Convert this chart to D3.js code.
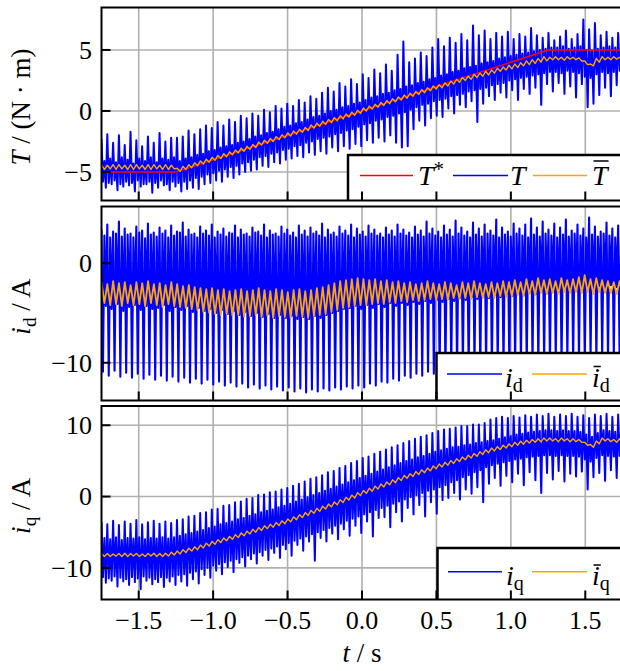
<!DOCTYPE html>
<html>
<head>
<meta charset="utf-8">
<script src="https://cdn.jsdelivr.net/npm/d3@7"></script>
<style>
  body { margin: 0; background: #fff; }
  svg text { font-family: "Liberation Serif", "DejaVu Serif", serif; fill: #000; }
</style>
</head>
<body>
<svg id="chart" width="620" height="671"></svg>
<script>
// time axis (s)
const tStart = -1.75, tEnd = 1.75;
const xTicks = [-1.5, -1.0, -0.5, 0.0, 0.5, 1.0, 1.5];

// reference torque T* (N m)
const refTime = [-1.75, -1.25, 1.25, 1.75];
const refTorque = [-5, -5, 5, 5];

const torque = [
  -2.3,-5.8,-4.1,-6.3, -1.9,-5.9,-3.9,-6.0, -2.6,-5.7,-4.2,-6.5,
  -2.0,-6.0,-3.8,-6.2, -2.8,-5.8,-4.0,-6.1, -1.7,-5.9,-4.3,-6.6,
  -2.4,-5.7,-3.9,-6.2, -2.9,-6.0,-4.1,-6.0, -2.1,-5.8,-3.8,-6.7,
  -2.6,-5.9,-4.2,-6.3, -1.8,-5.7,-3.9,-6.1, -2.5,-6.0,-4.0,-6.5,
  -2.2,-5.8,-3.8,-6.2, -2.2,-5.9,-4.1,-6.6, -2.1,-5.8,-3.9,-6.4,
  -1.6,-5.7,-3.8,-6.3, -1.9,-5.5,-3.6,-6.4, -1.5,-5.4,-3.5,-6.0,
  -1.2,-5.2,-3.3,-5.9, -1.4,-5.1,-3.2,-5.7, -0.9,-4.9,-3.0,-5.8,
  -1.2,-4.8,-2.9,-5.4, -0.7,-4.6,-2.8,-5.5, -0.9,-4.5,-2.6,-5.2,
  -0.4,-4.3,-2.5,-5.0, -0.6,-4.2,-2.3,-4.9, -0.2,-4.0,-2.1,-4.8,
  -0.4,-3.8,-2.0,-4.5, 0.1,-3.7,-1.8,-4.6, -0.1,-3.5,-1.7,-4.2,
  0.4,-3.4,-1.5,-4.3, 0.2,-3.2,-1.3,-4.0, 0.6,-3.1,-1.2,-3.9,
  0.4,-2.9,-1.0,-3.7, 0.9,-2.8,-0.9,-3.8, 0.7,-2.6,-0.7,-3.4,
  1.2,-2.5,-0.5,-3.6, 1.0,-2.3,-0.4,-3.3, 1.5,-2.2,-0.2,-3.5,
  1.9,-2.1,0.0,-3.0, 1.6,-1.9,0.1,-3.3, 2.3,-1.8,0.3,-2.9,
  2.0,-1.6,0.4,-3.1, 2.6,-1.5,0.6,-2.7, 2.2,-1.3,0.7,-2.9,
  3.0,-1.1,0.9,-2.4, 2.7,-1.0,1.1,-2.6, 3.4,-0.8,1.2,-2.2,
  3.1,-0.7,1.4,-2.5, 3.8,-0.5,1.5,-2.0, 3.3,-0.4,1.7,-2.6,
  4.6,-0.2,1.8,-3.0, 5.7,-0.1,2.0,-2.9, 4.0,0.1,2.1,-1.5,
  4.3,0.3,2.3,-0.8, 4.8,0.5,2.4,-1.2, 4.5,0.6,2.6,-0.6,
  5.2,0.8,2.7,-0.4, 5.9,0.9,2.9,-0.5, 5.3,1.0,3.0,0.2,
  6.0,1.2,3.2,-0.2, 5.6,1.3,3.3,0.5, 6.3,1.4,3.5,0.3,
  5.8,1.6,3.6,0.8, 7.0,1.7,3.7,-0.9, 6.2,1.8,3.9,0.6,
  6.6,1.9,4.0,1.2, 5.9,2.1,4.1,0.9, 6.4,2.2,4.3,1.5,
  6.1,2.3,4.4,1.1, 6.5,2.5,4.5,1.7, 5.9,2.6,4.6,0.9,
  6.3,2.7,4.7,1.8, 6.1,2.8,4.8,1.4, 6.8,2.9,4.9,1.9,
  6.2,3.0,5.0,0.5, 6.0,3.1,5.1,2.2, 6.4,3.2,5.2,1.6,
  5.8,3.2,5.2,2.3, 6.1,3.1,5.3,1.4, 6.6,3.3,5.1,2.0,
  5.9,3.2,5.2,1.1, 6.3,3.1,5.3,2.2, 7.5,2.8,5.0,0.3,
  6.7,2.7,4.9,0.6, 7.2,3.0,5.1,1.3, 6.2,3.2,5.2,1.9,
  6.5,3.1,5.3,1.2, 6.0,3.2,5.2,2.1, 6.4,3.3,5.1,1.7
];

// filtered torque T-bar, 2 samples per period
const torqueMean = [
  -4.4,-4.8, -4.45,-4.75, -4.4,-4.8, -4.4,-4.75, -4.45,-4.8,
  -4.4,-4.8, -4.4,-4.75, -4.45,-4.8, -4.4,-4.8, -4.4,-4.75,
  -4.45,-4.8, -4.4,-4.8, -4.45,-4.75,
  -4.7,-4.95, -4.55,-4.8, -4.4,-4.65, -4.25,-4.5, -4.1,-4.35,
  -3.95,-4.2, -3.8,-4.05, -3.65,-3.9, -3.5,-3.75, -3.35,-3.6,
  -3.2,-3.45, -3.05,-3.3, -2.9,-3.15, -2.75,-3.0, -2.55,-2.8,
  -2.4,-2.65, -2.25,-2.5, -2.1,-2.35, -1.95,-2.2, -1.8,-2.05,
  -1.65,-1.9, -1.5,-1.75, -1.35,-1.6, -1.15,-1.4, -1.0,-1.25,
  -0.85,-1.1, -0.7,-0.95, -0.55,-0.8, -0.4,-0.65, -0.25,-0.5,
  -0.1,-0.35, 0.05,-0.2, 0.25,0.0, 0.4,0.15, 0.55,0.3,
  0.7,0.45, 0.85,0.6, 1.0,0.75, 1.15,0.9, 1.3,1.05,
  1.45,1.2, 1.6,1.35, 1.75,1.5, 1.9,1.65, 2.05,1.8,
  2.15,1.9, 2.3,2.05, 2.45,2.2, 2.6,2.35, 2.75,2.5,
  2.85,2.6, 3.0,2.75, 3.1,2.85, 3.25,2.95, 3.35,3.1,
  3.5,3.25, 3.6,3.35, 3.75,3.45, 3.85,3.55, 3.95,3.7,
  4.1,3.8, 4.2,3.9, 4.3,4.0, 4.45,4.1, 4.4,4.2,
  4.45,4.2, 4.4,4.15, 4.45,4.25, 4.4,4.2, 4.35,4.1,
  4.1,3.8, 3.85,3.7, 4.3,4.0, 4.45,4.2, 4.4,4.2,
  4.45,4.25, 4.4,4.2
];

// d-axis current i_d (A)
const idCurrent = [
  3.4,-10.9,2.8,-4.3, 3.9,-11.3,2.6,-4.6, 3.2,-10.8,3.0,-4.1,
  4.2,-11.4,2.7,-4.8, 3.5,-11.0,2.9,-4.4, 3.0,-11.5,2.6,-4.2,
  3.7,-11.1,3.1,-4.7, 3.3,-11.6,2.5,-4.3, 4.0,-11.2,2.9,-4.6,
  3.1,-11.7,2.7,-4.5, 3.6,-11.3,3.0,-4.2, 3.3,-11.8,2.6,-4.8,
  3.8,-11.4,2.8,-4.4, 3.2,-11.9,3.1,-4.7, 4.1,-11.5,2.7,-4.3,
  3.4,-12.0,2.9,-4.9, 3.0,-11.6,2.6,-4.5, 3.7,-12.1,3.0,-4.8,
  3.3,-11.7,2.8,-4.6, 3.9,-12.2,2.6,-5.0, 3.2,-11.9,2.9,-4.7,
  3.5,-12.3,2.7,-5.1, 3.1,-12.0,3.0,-4.8, 3.8,-12.4,2.6,-5.2,
  3.4,-12.1,2.9,-4.9, 3.0,-12.5,2.7,-5.3, 3.6,-12.2,3.1,-5.0,
  3.2,-12.6,2.8,-5.4, 3.9,-12.3,2.6,-5.1, 3.3,-12.7,2.9,-5.5,
  3.0,-12.4,2.7,-5.2, 3.7,-12.8,3.0,-5.5, 3.4,-12.5,2.8,-5.3,
  3.1,-12.9,2.6,-5.6, 3.8,-12.6,2.9,-5.4, 3.3,-13.0,2.7,-5.6,
  3.6,-12.7,3.0,-5.3, 3.2,-12.9,2.8,-5.5, 4.0,-12.6,2.6,-5.2,
  3.4,-12.8,2.9,-5.0, 3.1,-12.5,2.7,-4.8, 3.7,-12.7,3.0,-4.6,
  3.3,-12.4,2.8,-4.5, 3.9,-12.6,2.6,-4.3, 3.5,-12.3,2.9,-4.6,
  3.2,-12.5,2.7,-4.2, 3.8,-12.1,3.0,-4.5, 3.4,-12.3,2.8,-4.1,
  3.0,-11.9,2.6,-4.4, 3.6,-12.0,2.9,-4.0, 3.3,-11.6,2.7,-4.3,
  3.9,-11.8,3.0,-4.0, 3.4,-11.3,2.8,-4.2, 3.1,-11.5,2.6,-3.9,
  3.7,-11.1,2.9,-4.1, 3.3,-11.3,2.7,-3.8, 4.2,-10.9,3.0,-4.0,
  3.5,-11.1,2.8,-3.7, 3.2,-10.8,2.6,-3.9, 3.8,-11.0,2.9,-3.6,
  3.4,-10.7,2.7,-3.8, 4.3,-10.9,3.0,-3.5, 3.6,-10.6,2.8,-3.7,
  3.2,-10.8,2.6,-3.4, 4.1,-10.5,2.9,-3.6, 3.5,-10.7,2.7,-3.3,
  3.9,-10.4,3.0,-3.5, 3.3,-10.6,2.8,-3.2, 4.4,-10.3,2.6,-3.4,
  3.6,-10.5,2.9,-3.1, 3.2,-10.2,2.7,-3.3, 4.0,-10.4,3.0,-3.0,
  3.5,-10.1,2.8,-3.2, 3.9,-10.3,2.6,-2.9, 4.5,-10.0,2.9,-3.1,
  3.6,-10.2,2.7,-2.8, 4.2,-9.9,3.0,-3.0, 3.4,-10.1,2.8,-2.7,
  4.0,-9.8,2.6,-2.9, 3.6,-10.0,2.9,-2.6, 4.4,-9.7,2.7,-2.8,
  3.3,-9.9,3.0,-2.5, 3.9,-9.6,2.8,-2.7, 3.5,-9.8,2.6,-2.4,
  4.6,-9.5,2.9,-2.6, 3.7,-9.7,2.7,-2.3, 3.2,-9.4,3.0,-2.5,
  4.1,-9.6,2.8,-2.2, 3.5,-9.3,2.6,-2.4, 3.8,-9.5,2.9,-2.1
];

// filtered i_d
const idMean = [
  -1.9,-4.0, -2.1,-4.2, -1.8,-4.1, -2.0,-4.3, -1.9,-4.0,
  -2.2,-4.2, -1.9,-4.1, -2.0,-4.3, -1.8,-4.0, -2.1,-4.2,
  -2.0,-4.4, -2.2,-4.1, -1.9,-4.3, -2.1,-4.4, -2.3,-4.5,
  -2.2,-4.6, -2.4,-4.7, -2.5,-4.9, -2.6,-5.0, -2.5,-5.1,
  -2.7,-5.2, -2.6,-5.1, -2.8,-5.3, -2.7,-5.2, -2.6,-5.4,
  -2.8,-5.3, -2.7,-5.2, -2.5,-5.4, -2.7,-5.3, -2.8,-5.5,
  -2.6,-5.3, -2.7,-5.4, -2.9,-5.5, -2.7,-5.3, -2.6,-5.4,
  -2.8,-5.5, -2.7,-5.3, -2.5,-5.2, -2.4,-5.1, -2.2,-4.9,
  -2.0,-4.7, -1.8,-4.5, -1.7,-4.4, -1.6,-4.3, -1.5,-4.2,
  -1.6,-4.2, -1.7,-4.1, -1.6,-4.0, -1.8,-4.1, -1.7,-3.9,
  -1.9,-4.0, -1.8,-3.8, -2.0,-3.9, -1.9,-3.7, -2.1,-3.8,
  -2.0,-3.7, -1.8,-3.6, -2.0,-3.7, -2.1,-3.6, -1.9,-3.7,
  -2.0,-3.5, -2.2,-3.6, -1.9,-3.5, -2.0,-3.6, -1.8,-3.4,
  -2.0,-3.5, -2.1,-3.4, -1.9,-3.5, -2.0,-3.3, -1.8,-3.4,
  -1.9,-3.3, -1.7,-3.2, -1.9,-3.3, -1.6,-3.1, -1.8,-3.2,
  -1.5,-3.0, -1.7,-3.1, -1.6,-3.0, -1.8,-3.1, -1.5,-2.9,
  -1.7,-3.0, -1.6,-2.9, -1.4,-3.0, -1.2,-2.9, -1.6,-3.1,
  -1.5,-2.9, -1.7,-3.0, -1.8,-3.0, -1.9,-3.1, -1.8,-3.0
];

// q-axis current i_q (A)
const iqCurrent = [
  -3.6,-11.3,-5.8,-12.1, -3.9,-11.5,-6.0,-11.8, -3.4,-11.2,-5.7,-12.6,
  -4.0,-11.4,-6.1,-11.9, -3.5,-11.6,-5.8,-12.4, -3.8,-11.3,-5.9,-12.0,
  -3.3,-11.5,-5.7,-13.0, -3.9,-11.2,-6.0,-11.8, -3.6,-11.4,-5.8,-12.3,
  -3.4,-11.6,-5.9,-12.0, -3.8,-11.3,-5.7,-12.7, -3.5,-11.4,-5.9,-11.9,
  -3.7,-11.2,-5.7,-12.4, -3.3,-11.0,-5.5,-11.9, -3.2,-10.9,-5.3,-12.5,
  -2.8,-10.7,-5.1,-11.6, -2.7,-10.5,-4.9,-12.2, -2.3,-10.2,-4.7,-11.0,
  -2.2,-10.0,-4.4,-11.4, -1.8,-9.7,-4.2,-10.4, -1.7,-9.5,-3.9,-10.9,
  -1.3,-9.2,-3.7,-9.9, -1.2,-9.0,-3.5,-10.6, -0.8,-8.8,-3.2,-9.3,
  -0.7,-8.5,-3.0,-9.8, -0.3,-8.3,-2.7,-8.8, -0.2,-8.0,-2.5,-9.4,
  0.2,-7.8,-2.2,-8.3, 0.3,-7.5,-2.0,-8.9, 0.6,-7.3,-1.8,-7.9,
  0.7,-7.0,-1.5,-8.6, 1.0,-6.8,-1.3,-7.4, 1.2,-6.5,-1.0,-8.3,
  1.5,-6.2,-0.7,-6.8, 1.8,-5.9,-0.4,-7.6, 2.1,-5.6,-0.1,-6.3,
  2.5,-5.3,0.2,-9.0, 2.7,-5.0,0.5,-5.8, 3.0,-4.7,0.8,-6.3,
  3.4,-4.4,1.1,-5.2, 3.6,-4.1,1.4,-6.0, 4.0,-3.8,1.7,-4.6,
  4.3,-3.4,2.0,-5.5, 4.7,-3.1,2.3,-4.1, 5.0,-2.8,2.6,-5.1,
  5.4,-2.5,2.9,-3.5, 5.6,-2.2,3.2,-5.6, 6.0,-1.9,3.5,-3.0,
  6.3,-1.6,3.8,-2.9, 6.6,-1.3,4.1,-4.3, 6.9,-1.0,4.4,-2.2,
  7.2,-0.7,4.7,-3.5, 7.5,-0.4,5.0,-1.6, 7.8,-0.1,5.2,-2.5,
  8.1,0.2,5.5,-1.2, 8.4,0.5,5.7,-2.8, 8.6,0.8,6.0,-0.8,
  8.9,1.0,6.3,-2.4, 9.2,1.3,6.5,-0.5, 9.4,1.6,6.7,-0.2,
  9.5,2.0,6.9,0.5, 9.7,2.3,7.0,-0.4, 9.9,2.7,7.2,1.0,
  9.9,3.0,7.3,0.4, 10.1,3.4,7.5,1.3, 10.1,3.7,7.6,-0.8,
  10.3,4.1,7.8,1.8, 10.8,4.4,7.9,2.6, 11.0,4.6,8.1,1.5,
  11.2,4.8,8.3,2.9, 11.0,5.0,8.5,2.0, 11.3,5.2,8.7,3.2,
  11.1,5.3,8.8,1.6, 11.4,5.5,9.0,3.4, 11.2,5.6,9.1,2.3,
  11.5,5.7,9.2,0.5, 11.3,5.8,9.3,3.3, 11.6,5.8,9.3,2.4,
  11.2,5.7,9.2,3.6, 11.5,5.8,9.3,2.1, 11.3,5.7,9.2,3.2,
  11.6,5.7,9.2,2.8, 11.2,5.6,9.1,3.5, 11.4,5.2,8.7,1.0,
  11.0,4.9,8.4,2.7, 11.5,5.4,8.9,3.3, 11.3,5.8,9.3,2.2,
  11.6,5.7,9.2,3.7, 11.2,5.6,9.1,2.6, 11.5,5.7,9.2,3.4
];

// filtered i_q
const iqMean = [
  -8.0,-8.4, -8.0,-8.4, -8.05,-8.35, -8.0,-8.4, -7.95,-8.4,
  -8.0,-8.35, -8.0,-8.4, -8.05,-8.4, -8.0,-8.35, -7.95,-8.4,
  -8.0,-8.4, -7.95,-8.35, -7.8,-8.2, -7.65,-8.05, -7.45,-7.85,
  -7.25,-7.65, -7.05,-7.45, -6.8,-7.2, -6.55,-6.95, -6.3,-6.7,
  -6.05,-6.45, -5.8,-6.2, -5.6,-6.0, -5.35,-5.75, -5.1,-5.5,
  -4.85,-5.25, -4.6,-5.0, -4.35,-4.75, -4.1,-4.5, -3.9,-4.3,
  -3.65,-4.05, -3.4,-3.8, -3.15,-3.55, -2.85,-3.25, -2.55,-2.95,
  -2.25,-2.65, -1.95,-2.35, -1.65,-2.05, -1.35,-1.75, -1.05,-1.45,
  -0.75,-1.15, -0.45,-0.85, -0.1,-0.5, 0.2,-0.2, 0.55,0.15,
  0.85,0.45, 1.15,0.75, 1.45,1.05, 1.75,1.35, 2.05,1.65,
  2.35,1.95, 2.65,2.25, 2.95,2.55, 3.2,2.8, 3.5,3.1,
  3.75,3.35, 4.0,3.6, 4.3,3.9, 4.55,4.15, 4.8,4.4,
  5.05,4.65, 5.3,4.9, 5.55,5.15, 5.8,5.4, 6.05,5.65,
  6.3,5.9, 6.55,6.15, 6.8,6.4, 7.0,6.6, 7.2,6.8,
  7.4,7.0, 7.6,7.2, 7.75,7.35, 7.9,7.5, 8.0,7.6,
  8.1,7.7, 8.2,7.8, 8.2,7.8, 8.1,7.7, 8.2,7.8,
  8.1,7.7, 8.1,7.7, 8.0,7.6, 7.6,7.2, 7.3,6.9,
  7.8,7.4, 8.2,7.8, 8.1,7.7, 8.0,7.6, 8.1,7.7
];

const torqueTicks = [-5, 0, 5];
const idTicks = [-10, 0];
const iqTicks = [-10, 0, 10];

const BLUE = "#0000ff", ORANGE = "#ffa500", RED = "#ff0000";

const svg = d3.select("#chart");
const x = d3.scaleLinear().domain([tStart, tEnd]).range([101.5, 622.5]);

// regular time vector for a series of n samples
function sampleTimes(n) {
  const step = (tEnd - tStart) / (n - 1);
  return d3.range(n).map(i => tStart + i * step);
}

// text with italic / sub / superscript pieces
function mathText(parent, px, py, parts, size) {
  const txt = parent.append("text").attr("x", px).attr("y", py).attr("font-size", size);
  let shift = 0;
  parts.forEach(p => {
    const s = p.shift || 0;
    txt.append("tspan").text(p.text)
      .attr("font-style", p.italic ? "italic" : "normal")
      .attr("font-size", size * (p.scale || 1))
      .attr("dy", s - shift);
    shift = s;
  });
  return txt;
}

// bar over first glyph of a text
function overBar(parent, txt, lift) {
  const e = txt.node().getExtentOfChar(0);
  parent.append("line")
    .attr("x1", e.x + 1.5).attr("x2", e.x + e.width + 1)
    .attr("y1", e.y + lift).attr("y2", e.y + lift)
    .attr("stroke", "#000").attr("stroke-width", 1.6);
}

const panels = [
  {
    id: "torque", top: 7.5, bottom: 200.5, domain: [-7.34, 8.48], ticks: torqueTicks,
    series: [
      {t: sampleTimes(torque.length), v: torque, color: BLUE, w: 2.0},
      {t: refTime, v: refTorque, color: RED, w: 1.5},
      {t: sampleTimes(torqueMean.length), v: torqueMean, color: ORANGE, w: 1.4}
    ],
    ylabel: [{text: "T", italic: true}, {text: " / (N · m)"}],
    legend: {x: 348, y: 155, ly: 175.5, ty: 185,
      items: [
        {color: RED, x1: 360, x2: 413, tx: 418, parts: [{text: "T", italic: true}, {text: "*", shift: -9, scale: 0.75}]},
        {color: BLUE, x1: 453, x2: 508, tx: 510, parts: [{text: "T", italic: true}]},
        {color: ORANGE, x1: 533, x2: 587, tx: 592, parts: [{text: "T", italic: true}], bar: 1}
      ]}
  },
  {
    id: "id", top: 206.5, bottom: 400.5, domain: [-13.8, 5.71], ticks: idTicks,
    series: [
      {t: sampleTimes(idCurrent.length), v: idCurrent, color: BLUE, w: 2.1},
      {t: sampleTimes(idMean.length), v: idMean, color: ORANGE, w: 1.8}
    ],
    ylabel: [{text: "i", italic: true}, {text: "d", shift: 6, scale: 0.72}, {text: " / A", shift: 0}],
    legend: {x: 436.5, y: 353, ly: 374, ty: 386.5,
      items: [
        {color: BLUE, x1: 447, x2: 502, tx: 505, parts: [{text: "i", italic: true}, {text: "d", shift: 5, scale: 0.72}]},
        {color: ORANGE, x1: 532, x2: 587, tx: 592, parts: [{text: "i", italic: true}, {text: "d", shift: 5, scale: 0.72}], bar: 5}
      ]}
  },
  {
    id: "iq", top: 406, bottom: 599.5, domain: [-14.44, 12.7], ticks: iqTicks,
    series: [
      {t: sampleTimes(iqCurrent.length), v: iqCurrent, color: BLUE, w: 2.0},
      {t: sampleTimes(iqMean.length), v: iqMean, color: ORANGE, w: 1.4}
    ],
    ylabel: [{text: "i", italic: true}, {text: "q", shift: 6, scale: 0.72}, {text: " / A", shift: 0}],
    legend: {x: 437.5, y: 548, ly: 571.7, ty: 585,
      items: [
        {color: BLUE, x1: 448, x2: 502, tx: 506, parts: [{text: "i", italic: true}, {text: "q", shift: 5, scale: 0.72}]},
        {color: ORANGE, x1: 532, x2: 587, tx: 592, parts: [{text: "i", italic: true}, {text: "q", shift: 5, scale: 0.72}], bar: 5}
      ]}
  }
];

const xLeft = x.range()[0], xRight = x.range()[1];

panels.forEach((p, pi) => {
  const y = d3.scaleLinear().domain(p.domain).range([p.bottom, p.top]);
  const g = svg.append("g");

  svg.append("clipPath").attr("id", "clip-" + p.id)
    .append("rect").attr("x", xLeft).attr("y", p.top)
    .attr("width", xRight - xLeft).attr("height", p.bottom - p.top);

  // grid
  g.selectAll(".gx").data(xTicks).join("line")
    .attr("x1", d => x(d)).attr("x2", d => x(d))
    .attr("y1", p.top).attr("y2", p.bottom)
    .attr("stroke", "#b0b0b0").attr("stroke-width", 1.6);
  g.selectAll(".gy").data(p.ticks).join("line")
    .attr("class", "gy")
    .attr("x1", xLeft).attr("x2", xRight)
    .attr("y1", d => y(d)).attr("y2", d => y(d))
    .attr("stroke", "#b0b0b0").attr("stroke-width", 1.6);

  // series
  const plot = g.append("g").attr("clip-path", `url(#clip-${p.id})`);
  p.series.forEach(s => {
    const line = d3.line().x((d, i) => x(s.t[i])).y(d => y(d));
    plot.append("path").attr("d", line(s.v))
      .attr("fill", "none").attr("stroke", s.color)
      .attr("stroke-width", s.w).attr("stroke-linejoin", "round");
  });

  // legend, clipped to the axes
  const L = p.legend;
  const lg = g.append("g").attr("clip-path", `url(#clip-${p.id})`);
  lg.append("rect").attr("x", L.x).attr("y", L.y)
    .attr("width", 300).attr("height", p.bottom - L.y + 10)
    .attr("fill", "#fff").attr("stroke", "#000").attr("stroke-width", 2.5);
  L.items.forEach(it => {
    lg.append("line").attr("x1", it.x1).attr("x2", it.x2)
      .attr("y1", L.ly).attr("y2", L.ly)
      .attr("stroke", it.color).attr("stroke-width", 1.5);
    const txt = mathText(lg, it.tx, L.ty, it.parts, 28);
    if (it.bar) overBar(lg, txt, it.bar);
  });

  // frame
  g.append("rect").attr("x", xLeft).attr("y", p.top)
    .attr("width", xRight - xLeft).attr("height", p.bottom - p.top)
    .attr("fill", "none").attr("stroke", "#000").attr("stroke-width", 2);

  // inward ticks
  g.selectAll(".tx").data(xTicks).join("line")
    .attr("x1", d => x(d)).attr("x2", d => x(d))
    .attr("y1", p.bottom).attr("y2", p.bottom - 9)
    .attr("stroke", "#000").attr("stroke-width", 2);
  g.selectAll(".ty").data(p.ticks).join("line")
    .attr("class", "ty")
    .attr("x1", xLeft).attr("x2", xLeft + 9)
    .attr("y1", d => y(d)).attr("y2", d => y(d))
    .attr("stroke", "#000").attr("stroke-width", 2);

  // y tick labels
  g.selectAll(".yl").data(p.ticks).join("text")
    .attr("class", "yl")
    .attr("x", xLeft - 9.5).attr("y", d => y(d)).attr("dy", "0.34em")
    .attr("text-anchor", "end").attr("font-size", 26)
    .text(d => d3.format("d")(d));

  // y label
  const cy = (p.top + p.bottom) / 2 + 3;
  const yl = mathText(svg.append("g").attr("transform", `translate(30,${cy}) rotate(-90)`),
    0, 0, p.ylabel, 27);
  yl.attr("text-anchor", "middle");
});

// x tick labels under last panel
svg.selectAll(".xl").data(xTicks).join("text")
  .attr("class", "xl")
  .attr("x", d => x(d)).attr("y", 629)
  .attr("text-anchor", "middle").attr("font-size", 26)
  .text(d => d3.format(".1f")(d));

mathText(svg, x(0), 662, [{text: "t", italic: true}, {text: " / s"}], 27)
  .attr("text-anchor", "middle");
</script>
</body>
</html>
